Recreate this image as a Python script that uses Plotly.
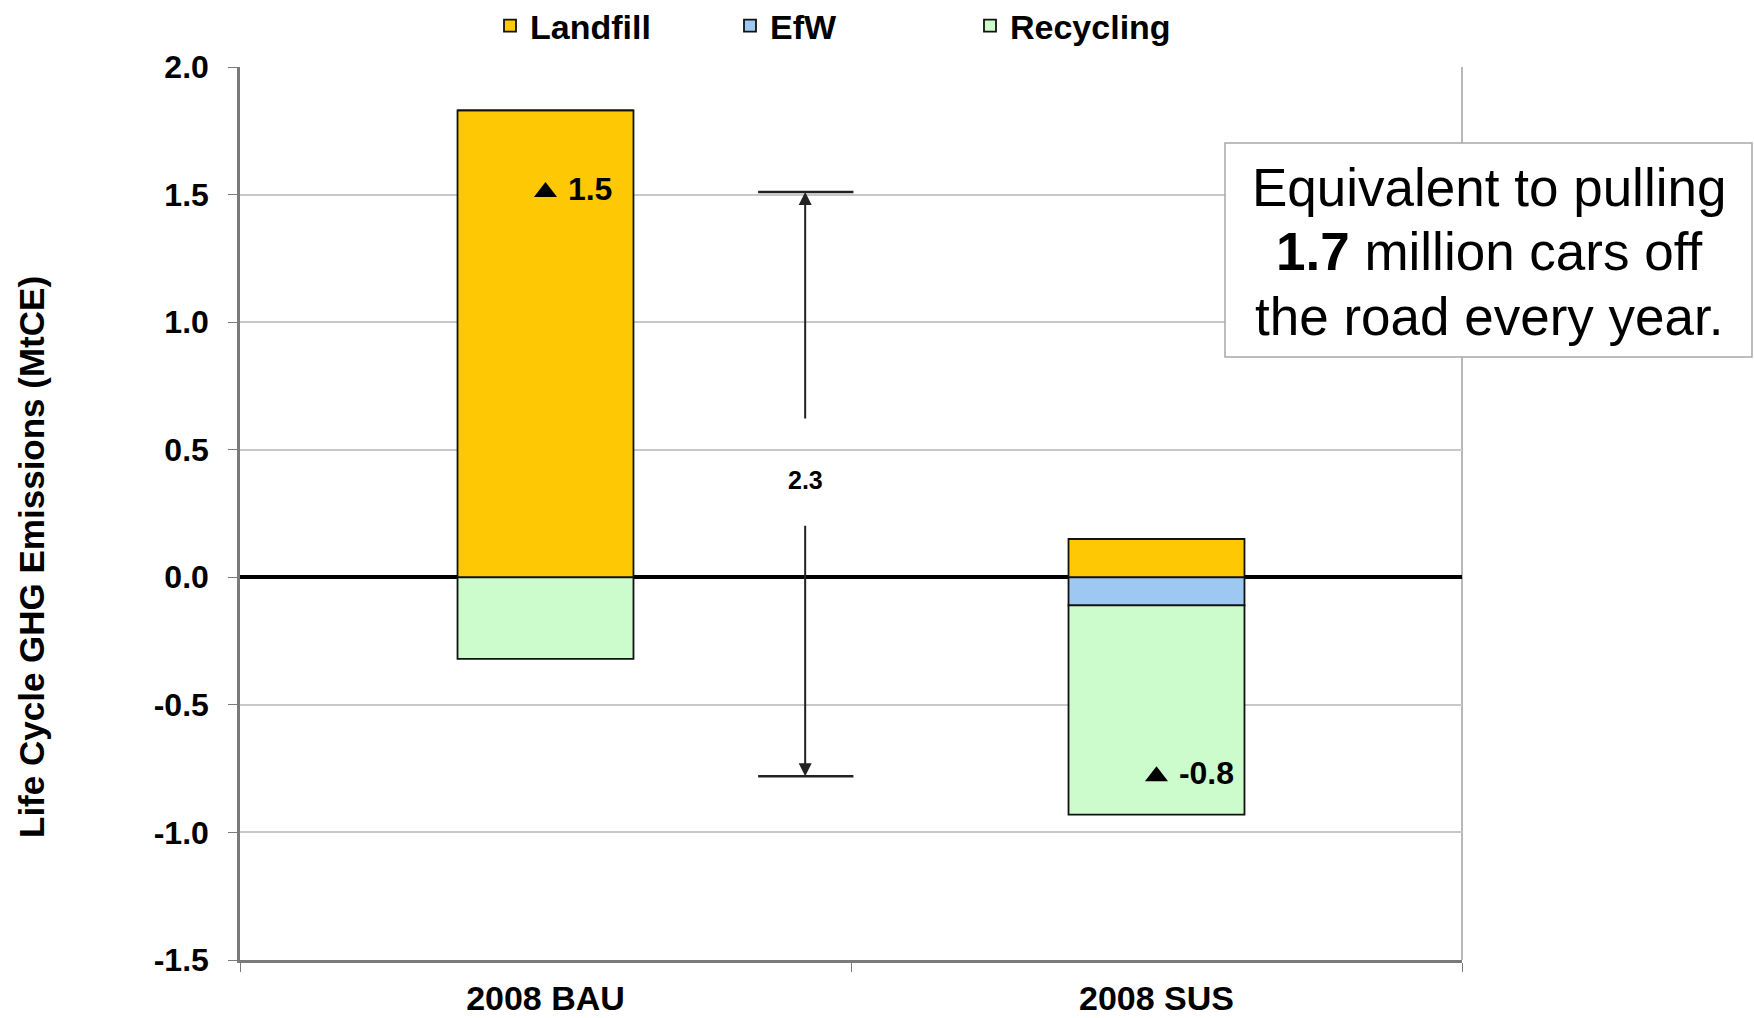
import plotly.graph_objects as go

# Life cycle GHG emissions by waste route (MtCE)
scenarios = ["2008 BAU", "2008 SUS"]
landfill = [1.83, 0.15]
efw = [0.0, -0.11]
recycling = [-0.32, -0.82]

series_names = ["Landfill", "EfW", "Recycling"]
series_colors = ["#FFC805", "#9DC8F2", "#CCFCCC"]

y_ticks = [-1.5, -1.0, -0.5, 0.0, 0.5, 1.0, 1.5, 2.0]
y_tick_text = [f"{v:.1f}" for v in y_ticks]

net = [round(a + b + c, 2) for a, b, c in zip(landfill, efw, recycling)]
saving = net[0] - net[1]

FONT = "Liberation Sans, Arial, sans-serif"
BOLD = dict(family=FONT, color="black", weight="bold")

W, H = 1754, 1018
ML, MR, MT, MB = 240, 292, 67, 58
PW, PH = W - ML - MR, H - MT - MB


def px_x(px):
    return (px - ML) / PW


def px_y(py):
    return (H - MB - py) / PH


fig = go.Figure()
for name, vals, col in zip(series_names, [landfill, efw, recycling], series_colors):
    fig.add_trace(go.Bar(
        x=scenarios, y=vals, name=name, width=0.288,
        marker=dict(color=col, line=dict(color="#111111", width=1.8)),
    ))

# Net total markers
fig.add_trace(go.Scatter(
    x=scenarios, y=net, mode="markers+text", showlegend=False,
    marker=dict(symbol="triangle-up", size=20, color="black"),
    text=[f"\u00a0{v:.1f}" for v in net], textposition="middle right",
    textfont=dict(size=32, **BOLD),
    cliponaxis=False,
))

# Difference arrow between the two net totals
arrow_x = 0.425
cap_x0, cap_x1 = 0.348, 0.504
for yv in net:
    fig.add_shape(type="line", xref="x", yref="y", x0=cap_x0, x1=cap_x1,
                  y0=yv, y1=yv, line=dict(color="#222222", width=2.5))
fig.add_annotation(x=arrow_x, y=net[0], ax=arrow_x, ay=0.616, xref="x", yref="y",
                   axref="x", ayref="y", text="", showarrow=True, arrowhead=2,
                   arrowsize=1.3, arrowwidth=2, arrowcolor="#222222")
fig.add_annotation(x=arrow_x, y=net[1], ax=arrow_x, ay=0.208, xref="x", yref="y",
                   axref="x", ayref="y", text="", showarrow=True, arrowhead=2,
                   arrowsize=1.3, arrowwidth=2, arrowcolor="#222222")
fig.add_annotation(x=arrow_x, y=0.38, xref="x", yref="y", text=f"{saving:.1f}",
                   showarrow=False, font=dict(size=25, **BOLD))

# Right frame edge
fig.add_shape(type="line", xref="paper", yref="paper", x0=1, x1=1, y0=0, y1=1,
              line=dict(color="#B8B8B8", width=2), layer="below")

# Callout box
fig.add_shape(type="rect", xref="paper", yref="paper",
              x0=px_x(1225), x1=px_x(1752), y0=px_y(357), y1=px_y(143),
              line=dict(color="#A8A8A8", width=1.5), fillcolor="white", layer="above")
callout_lines = ["Equivalent to pulling", "<b>1.7</b> million cars off", "the road every year."]
for line, py in zip(callout_lines, [188, 252, 316]):
    fig.add_annotation(x=px_x(1489), y=px_y(py), xref="paper", yref="paper",
                       text=line, showarrow=False, xanchor="center", yanchor="middle",
                       font=dict(family=FONT, size=53, color="black"))

# Y axis title
fig.add_annotation(x=px_x(31), y=px_y(557), xref="paper", yref="paper",
                   text="Life Cycle GHG Emissions (MtCE)", textangle=-90,
                   showarrow=False, xanchor="center", yanchor="middle",
                   font=dict(size=35, **BOLD))

fig.update_layout(
    width=W, height=H,
    margin=dict(l=ML, r=MR, t=MT, b=MB, autoexpand=False),
    barmode="relative",
    plot_bgcolor="white", paper_bgcolor="white",
    font=dict(family=FONT, color="black"),
    showlegend=True,
    legend=dict(orientation="h", x=px_x(490), xanchor="left",
                yref="container", y=1 - 26 / H, yanchor="middle",
                font=dict(size=34, **BOLD),
                entrywidth=195, entrywidthmode="pixels", bgcolor="rgba(0,0,0,0)"),
)
fig.update_xaxes(
    type="category", range=[-0.5, 1.5], showgrid=False, automargin=False,
    showline=True, linecolor="#7A7A7A", linewidth=2.5,
    ticks="outside", tickson="boundaries", ticklen=9, tickcolor="#7A7A7A",
    tickfont=dict(size=34, **BOLD), ticklabelstandoff=6,
)
fig.update_yaxes(
    range=[-1.5, 2.0], tickvals=y_ticks, ticktext=y_tick_text, automargin=False,
    showgrid=True, gridcolor="#C8C8C8", gridwidth=1.5,
    zeroline=True, zerolinecolor="black", zerolinewidth=3.5,
    showline=True, linecolor="#7A7A7A", linewidth=2.5,
    ticks="outside", ticklen=9, tickcolor="#7A7A7A",
    tickfont=dict(size=32, **BOLD), ticklabelstandoff=13,
)

fig.write_html("out.html")
